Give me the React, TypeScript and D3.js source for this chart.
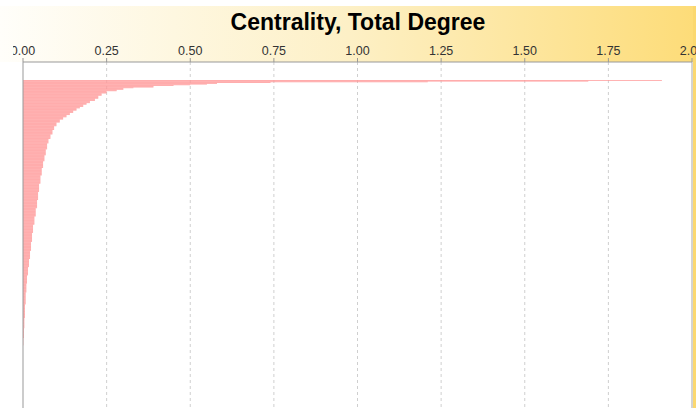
import React from 'react'
import * as d3 from 'd3'

// distinct total degree values, from the highest node down, and how many nodes share each one
const centralityLevels = [
  1.91, 1.69, 1.21, 0.74, 0.58, 0.55, 0.5, 0.45, 0.39, 0.33, 0.3, 0.28,
  0.25, 0.235, 0.225, 0.215, 0.2, 0.19, 0.18, 0.17, 0.16, 0.15, 0.14, 0.13,
  0.12, 0.11, 0.1, 0.093, 0.088, 0.082, 0.076, 0.072, 0.068, 0.064, 0.06,
  0.056, 0.052, 0.048, 0.045, 0.042, 0.038, 0.034, 0.03, 0.027, 0.024, 0.021,
  0.018, 0.015, 0.012, 0.01, 0.008, 0.006, 0.004, 0.003, 0.001, 0
]
const nodeCounts = [
  1, 1, 1, 1, 1, 1, 1, 1, 2, 1, 2, 2,
  3, 3, 4, 3, 3, 2, 3, 2, 3, 3, 3, 3,
  3, 4, 5, 5, 6, 6, 6, 8, 8, 8, 9,
  10, 11, 11, 11, 11, 11, 11, 11, 12, 12, 11,
  11, 11, 11, 12, 16, 18, 14, 13, 10, 84
]
const tickValues = [0, 0.25, 0.5, 0.75, 1, 1.25, 1.5, 1.75, 2]

const title = 'Centrality, Total Degree'

export default function App() {
  const width = 696
  const height = 408
  const left = 23
  const right = 692
  const axisY = 62
  const barTop = 80

  // one bar per node
  const nodes: number[] = []
  centralityLevels.forEach((v, i) => {
    for (let k = 0; k < nodeCounts[i]; k++) nodes.push(v)
  })

  const x = d3.scaleLinear().domain([0, 2]).range([left, right])
  const y = d3.scaleBand<number>()
    .domain(nodes.map((d, i) => i))
    .range([barTop, height])
    .padding(0)

  const font = '"Liberation Sans", Arial, sans-serif'

  return (
    <svg width={width} height={height}
      style={{ position: 'absolute', left: 0, top: 0, background: '#fff' }}>
      <defs>
        <linearGradient id="head" x1="0" x2="1" y1="0" y2="0">
          <stop offset="0" stopColor="#fffefa" />
          <stop offset="0.5" stopColor="#fdf0c6" />
          <stop offset="1" stopColor="#fddc78" />
        </linearGradient>
        <clipPath id="labels">
          <rect x={13} y={0} width={width - 13} height={height} />
        </clipPath>
      </defs>

      <rect x={0} y={6} width={width} height={axisY - 6} fill="url(#head)" />
      <rect x={693} y={6} width={3} height={height - 6} fill="#fbd870" />

      <text x={358} y={30} textAnchor="middle" fontFamily={font}
        fontWeight="bold" fontSize={23} fill="#000">{title}</text>

      {/* grid */}
      {tickValues.slice(1, -1).map(t => (
        <line key={'g' + t} x1={x(t)} x2={x(t)} y1={axisY} y2={height}
          stroke="#cfcfcf" strokeDasharray="3,3" />
      ))}
      <line x1={x(2)} x2={x(2)} y1={axisY} y2={height} stroke="#a8a8a8" />

      {/* bars */}
      <g fill="#ff9999">
        {nodes.map((d, i) => d > 0 ? (
          <rect key={i} x={x(0)} y={y(i)} width={x(d) - x(0)}
            height={y.bandwidth()} />
        ) : null)}
      </g>

      {/* axis */}
      <line x1={left} x2={right} y1={axisY} y2={axisY} stroke="#999" />
      <line x1={left} x2={left} y1={axisY} y2={height} stroke="#999" />
      <g clipPath="url(#labels)">
        {tickValues.map(t => (
          <g key={t}>
            <line x1={x(t)} x2={x(t)} y1={axisY - 4} y2={axisY} stroke="#999" />
            <text x={x(t)} y={55} textAnchor="middle" fontFamily={font}
              fontSize={12.5} fill="#333">{d3.format('.2f')(t)}</text>
          </g>
        ))}
      </g>
    </svg>
  )
}
